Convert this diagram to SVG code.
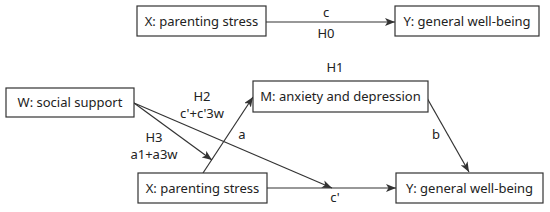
<svg xmlns="http://www.w3.org/2000/svg" width="550" height="212" viewBox="0 0 550 212">
<defs>
<marker id="ah" viewBox="0 0 10 8" refX="10" refY="4" markerWidth="10" markerHeight="8" markerUnits="userSpaceOnUse" orient="auto">
<path d="M0,0 L10,4 L0,8 L2.5,4 Z" fill="#333"/>
</marker>
<style>
.box{fill:#fff;stroke:#333;stroke-width:1.2}
.lbl{font-family:"Noto Sans","Open Sans",sans-serif;font-size:13px;fill:#222;text-anchor:middle}
.edge{stroke:#333;stroke-width:1.2;fill:none;marker-end:url(#ah)}
</style>
</defs>
<rect width="550" height="212" fill="#fff"/>
<g id="connectors">
<line class="edge" x1="266" y1="22" x2="395" y2="22"/>
<line class="edge" x1="203" y1="173" x2="253" y2="97"/>
<line class="edge" x1="134" y1="103" x2="212" y2="160"/>
<line class="edge" x1="134" y1="103" x2="332" y2="188"/>
<line class="edge" x1="267" y1="188" x2="396" y2="188"/>
<line class="edge" x1="427" y1="98" x2="469" y2="172"/>
</g>
<g id="x-top"><rect class="box" x="137" y="6" width="129" height="30"/><text class="lbl" x="201.5" y="25.5">X: parenting stress</text></g>
<g id="y-top"><rect class="box" x="395" y="6" width="144" height="30"/><text class="lbl" x="467" y="25.5">Y: general well-being</text></g>
<g id="w"><rect class="box" x="6" y="88" width="128" height="29"/><text class="lbl" x="70" y="107">W: social support</text></g>
<g id="m"><rect class="box" x="253" y="81" width="175" height="31"/><text class="lbl" x="340.5" y="101">M: anxiety and depression</text></g>
<g id="x"><rect class="box" x="138" y="173" width="129" height="30"/><text class="lbl" x="202.5" y="192.5">X: parenting stress</text></g>
<g id="y"><rect class="box" x="396" y="173" width="147" height="30"/><text class="lbl" x="469.5" y="192.5">Y: general well-being</text></g>
<g id="labels">
<text class="lbl" x="326" y="17">c</text>
<text class="lbl" x="326" y="38">H0</text>
<text class="lbl" x="335" y="72">H1</text>
<text class="lbl" x="202" y="101">H2</text>
<text class="lbl" x="202" y="118">c'+c'3w</text>
<text class="lbl" x="242" y="139">a</text>
<text class="lbl" x="154" y="142">H3</text>
<text class="lbl" x="154" y="159">a1+a3w</text>
<text class="lbl" x="436" y="139">b</text>
<text class="lbl" x="335" y="202">c'</text>
</g>
</svg>
